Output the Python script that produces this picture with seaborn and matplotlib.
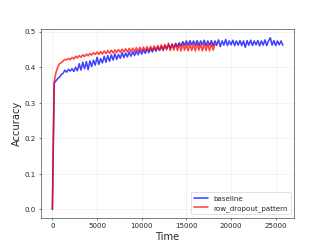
import numpy as np
import pandas as pd
import seaborn as sns
import matplotlib
matplotlib.use("Agg")
import matplotlib.pyplot as plt

# logged every 200 steps
base_time = np.arange(0, 25801, 200)
base_acc = [
    0.0, 0.355, 0.362, 0.368, 0.372, 0.380, 0.383, 0.392, 0.386, 0.394,
    0.389, 0.396, 0.388, 0.400, 0.390, 0.410, 0.392, 0.414, 0.396, 0.416,
    0.393, 0.418, 0.402, 0.420, 0.406, 0.428, 0.408, 0.424, 0.412, 0.431,
    0.414, 0.433, 0.417, 0.435, 0.420, 0.438, 0.422, 0.436, 0.425, 0.441,
    0.427, 0.440, 0.429, 0.443, 0.431, 0.444, 0.433, 0.446, 0.435, 0.448,
    0.437, 0.449, 0.439, 0.451, 0.441, 0.453, 0.443, 0.455, 0.445, 0.457,
    0.447, 0.459, 0.449, 0.461, 0.452, 0.463, 0.453, 0.465, 0.455, 0.467,
    0.458, 0.469, 0.460, 0.472, 0.462, 0.474, 0.462, 0.475, 0.463, 0.474,
    0.462, 0.475, 0.461, 0.474, 0.463, 0.476, 0.461, 0.474, 0.462, 0.475,
    0.461, 0.474, 0.463, 0.477, 0.458, 0.474, 0.462, 0.478, 0.461, 0.474,
    0.463, 0.476, 0.461, 0.474, 0.462, 0.475, 0.461, 0.474, 0.456, 0.475,
    0.462, 0.476, 0.461, 0.474, 0.463, 0.475, 0.460, 0.474, 0.462, 0.477,
    0.461, 0.474, 0.483, 0.462, 0.475, 0.461, 0.474, 0.463, 0.474, 0.462,
]
drop_time = np.arange(0, 18401, 200)
drop_acc = [
    0.0, 0.360, 0.385, 0.400, 0.410, 0.413, 0.418, 0.422, 0.421, 0.425,
    0.421, 0.428, 0.423, 0.431, 0.426, 0.433, 0.428, 0.435, 0.430, 0.437,
    0.432, 0.439, 0.434, 0.441, 0.436, 0.443, 0.436, 0.444, 0.437, 0.446,
    0.438, 0.447, 0.439, 0.448, 0.440, 0.449, 0.441, 0.450, 0.442, 0.451,
    0.443, 0.452, 0.443, 0.453, 0.444, 0.454, 0.444, 0.455, 0.445, 0.456,
    0.446, 0.457, 0.446, 0.458, 0.447, 0.459, 0.447, 0.460, 0.448, 0.461,
    0.448, 0.463, 0.447, 0.464, 0.449, 0.468, 0.447, 0.465, 0.448, 0.466,
    0.447, 0.465, 0.446, 0.467, 0.448, 0.465, 0.446, 0.466, 0.447, 0.465,
    0.446, 0.467, 0.448, 0.465, 0.446, 0.466, 0.447, 0.465, 0.446, 0.467,
    0.448, 0.465, 0.461,
]

df = pd.concat([
    pd.DataFrame({"Time": base_time, "Accuracy": base_acc, "run": "baseline"}),
    pd.DataFrame({"Time": drop_time, "Accuracy": drop_acc, "run": "row_dropout_pattern"}),
])

sns.set_style("whitegrid", {"axes.edgecolor": "0.15", "grid.color": "0.92",
                            "xtick.bottom": True, "ytick.left": True})
plt.rcParams['font.family'] = ['DejaVu Sans']

fig, ax = plt.subplots(figsize=(6.4, 4.8), dpi=51.1)
sns.lineplot(data=df, x="Time", y="Accuracy", hue="run",
             palette={"baseline": "blue", "row_dropout_pattern": "red"},
             alpha=0.75, linewidth=2.2, ax=ax)
ax.set_xlabel("Time", fontsize=14)
ax.set_ylabel("Accuracy", fontsize=14)
ax.set_yticks([0.0, 0.1, 0.2, 0.3, 0.4, 0.5])
leg = ax.legend(loc="lower right", fontsize=10)
leg.set_title(None)
fig.subplots_adjust(left=0.125, right=0.9, bottom=0.11, top=0.88)
fig.savefig("out.png", dpi=51.1)
